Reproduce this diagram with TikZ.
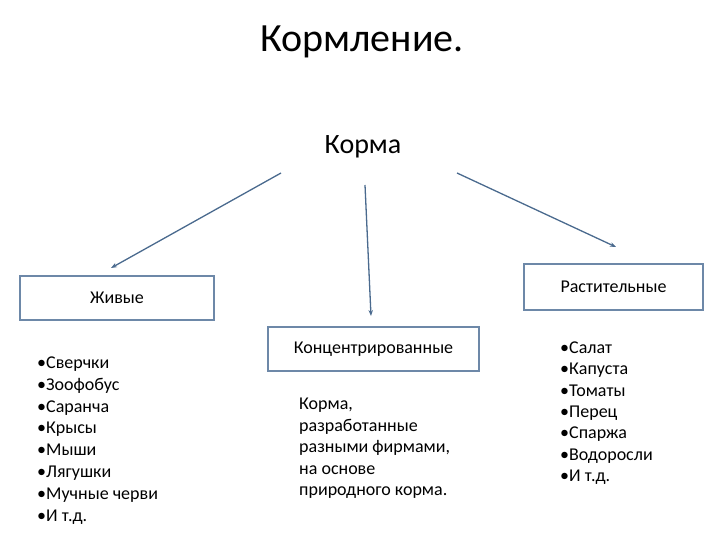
\documentclass[tikz,border=0pt]{standalone}
\usepackage{fontspec}
\setmainfont{Carlito}
\usetikzlibrary{arrows.meta}
\definecolor{boxline}{HTML}{6D88A8}
\definecolor{arrline}{HTML}{4A6A8E}
\tikzset{
  body/.style={font=\fontsize{18}{21.7}\selectfont, inner sep=0pt},
  catbox/.style={draw=boxline, line width=1.8pt, minimum height=44pt, inner sep=0pt, font=\fontsize{18}{21.7}\selectfont},
  arr/.style={draw=arrline, line width=1.3pt, -{Stealth[length=6pt,width=4.5pt]}},
  line/.style={body, anchor=base west}
}
\begin{document}
\begin{tikzpicture}[x=1pt,y=-1pt]
\useasboundingbox (0,0) rectangle (720,540);
\node[inner sep=0pt, font=\fontsize{40}{48}\selectfont] (title) at (362,42) {Кормление.};
\node[inner sep=0pt, font=\fontsize{28}{34}\selectfont] (korma) at (363,147) {Корма};

\node[catbox, minimum width=194pt] (live) at (117,298) {Живые};
\node[catbox, minimum width=211pt] (conc) at (373.5,349) {Концентрированные};
\node[catbox, minimum width=179pt, minimum height=46pt] (plant) at (613.5,287) {Растительные};

\coordinate (s1) at (281,173);
\coordinate (e1) at (111,268);
\coordinate (s2) at (365,185);
\coordinate (e2) at (371,316);
\coordinate (s3) at (457,173);
\coordinate (e3) at (616,247);
\draw[arr] (s1) -- (e1);
\draw[arr] (s2) -- (e2);
\draw[arr] (s3) -- (e3);

\foreach \t [count=\i] in {Сверчки,Зоофобус,Саранча,Крысы,Мыши,Лягушки,Мучные черви,И т.д.}
  \node[line] (l\i) at (37,{368.5+21.8*(\i-1)}) {•\t};

\foreach \t [count=\i] in {{Корма,},разработанные,{разными фирмами,},на основе,природного корма.}
  \node[line] (c\i) at (299,{409.5+21.5*(\i-1)}) {\t};

\foreach \t [count=\i] in {Салат,Капуста,Томаты,Перец,Спаржа,Водоросли,И т.д.}
  \node[line] (p\i) at (560,{353.5+21.3*(\i-1)}) {•\t};
\end{tikzpicture}
\end{document}
